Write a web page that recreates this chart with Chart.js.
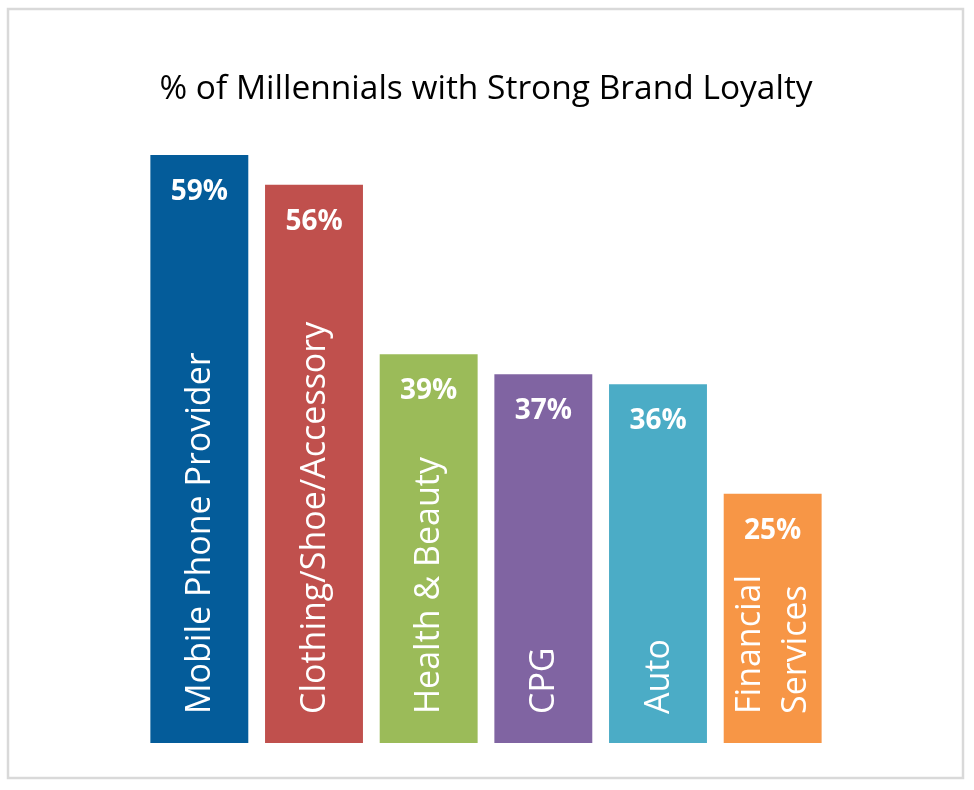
<!DOCTYPE html>
<html>
<head>
<meta charset="utf-8">
<script src="https://cdn.jsdelivr.net/npm/chart.js@4.4.0/dist/chart.umd.min.js"></script>
<style>
  html, body { margin: 0; padding: 0; background: #fff; }
  #wrap { width: 974px; height: 790px; position: relative; }
</style>
</head>
<body>
<div id="wrap"><canvas id="loyaltyChart"></canvas></div>
<script>
const categories = [
  "Mobile Phone Provider",
  "Clothing/Shoe/Accessory",
  "Health & Beauty",
  "CPG",
  "Auto",
  ["Financial", "Services"]
];
const loyalty = [59, 56, 39, 37, 36, 25];
const barColors = ["#045c9a", "#c0504d", "#9bbb59", "#8064a2", "#4bacc6", "#f79646"];

// frame around the whole picture
const framePlugin = {
  id: "frame",
  beforeDraw(chart) {
    const ctx = chart.ctx;
    ctx.save();
    ctx.fillStyle = "#fff";
    ctx.fillRect(0, 0, chart.width, chart.height);
    ctx.strokeStyle = "#d9d9d9";
    ctx.lineWidth = 2.5;
    ctx.strokeRect(8, 9, 955, 769);
    ctx.restore();
  }
};

// value on top and the category name running up inside each bar
const insideLabels = {
  id: "insideLabels",
  afterDatasetsDraw(chart) {
    const ctx = chart.ctx;
    const meta = chart.getDatasetMeta(0);
    const base = chart.scales.y.getPixelForValue(0);
    ctx.save();
    ctx.fillStyle = "#fff";
    meta.data.forEach((bar, i) => {
      ctx.font = "bold 28px 'Open Sans'";
      ctx.textAlign = "center";
      ctx.textBaseline = "middle";
      ctx.fillText(loyalty[i] + "%", bar.x, bar.y + 37);

      const lines = [].concat(categories[i]);
      const lh = 46;
      ctx.save();
      ctx.translate(bar.x + 1, base - 29);
      ctx.rotate(-Math.PI / 2);
      ctx.font = "34px 'Open Sans'";
      ctx.textAlign = "left";
      lines.forEach((t, k) => {
        const off = (k - (lines.length - 1) / 2) * lh;
        ctx.fillText(t, 0, off);
      });
      ctx.restore();
    });
    ctx.restore();
  }
};

new Chart(document.getElementById("loyaltyChart"), {
  type: "bar",
  data: {
    labels: categories,
    datasets: [{
      data: loyalty,
      backgroundColor: barColors,
      borderWidth: 0,
      barPercentage: 0.854,
      categoryPercentage: 1
    }]
  },
  options: {
    responsive: true,
    maintainAspectRatio: false,
    animation: false,
    layout: { padding: { left: 142, right: 144, top: 69, bottom: 47 } },
    scales: {
      x: { display: false },
      y: { display: false, min: 0, max: 60 }
    },
    plugins: {
      legend: { display: false },
      tooltip: { enabled: false },
      title: {
        display: true,
        text: "% of Millennials with Strong Brand Loyalty",
        color: "#000",
        font: { family: "'Open Sans'", size: 33.5, weight: "normal" },
        padding: { top: 0, bottom: 35.8 }
      }
    }
  },
  plugins: [framePlugin, insideLabels]
});
</script>
</body>
</html>
